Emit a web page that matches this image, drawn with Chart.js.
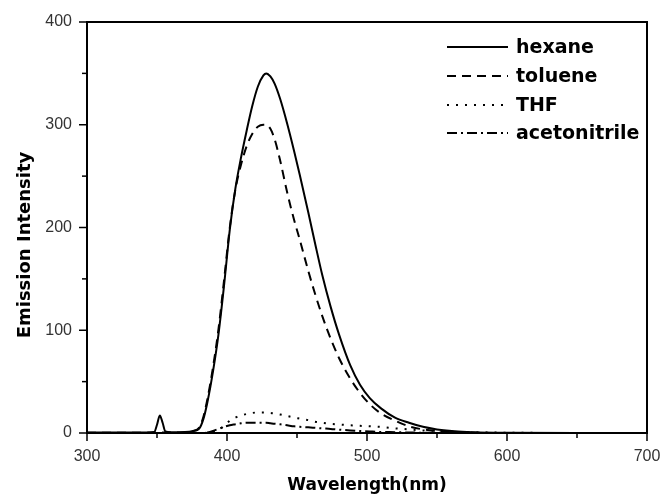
<!DOCTYPE html>
<html>
<head>
<meta charset="utf-8">
<script src="https://cdn.jsdelivr.net/npm/chart.js@4.4.0/dist/chart.umd.min.js"></script>
<style>
  body { margin: 0; background: #fff; }
</style>
</head>
<body>
<canvas id="spectra" width="662" height="496"></canvas>
<script>
// wavelength grid (nm) shared by all spectra
const wavelengths = [300, 340, 348, 350, 352, 354, 356, 360, 370, 376,
    380, 383, 386, 390, 394, 398, 402, 406, 410, 414,
    418, 422, 426, 428, 431, 434, 438, 443, 448, 452,
    458, 463, 468, 474, 480, 488, 495, 502, 510, 520,
    530, 540, 550, 565, 580, 600, 650, 700];

const hexane = [0.5, 0.5, 1, 8, 17, 10, 1.5, 0.8, 1, 2,
    4, 13, 30, 60, 97, 145, 198, 238, 268, 294,
    318, 337, 348, 350, 347, 340, 325, 301, 274, 251,
    215, 184, 154, 123, 96, 66, 47, 34, 24, 15,
    10, 6, 3.5, 1.5, 0.6, 0.2, 0, 0];

const toluene = [0.3, 0.3, 0.5, 0.5, 0.5, 0.5, 0.5, 0.5, 0.8, 2,
    5, 15, 33, 64, 102, 150, 200, 237, 261, 279,
    291, 298, 300, 300, 296, 286, 265, 234, 207, 188,
    158, 135, 114, 92, 73, 53, 39, 28, 19, 12,
    6.5, 3.5, 2, 0.8, 0.3, 0, 0, 0];

const thf = [0, 0, 0, 0, 0, 0, 0, 0, 0, 0,
    0, 0, 0.5, 1.5, 3, 7, 12, 15, 17, 18.5,
    19.5, 20, 20, 20, 19.5, 19, 18, 16.5, 15, 14,
    12.5, 11, 10, 9, 8.3, 7.5, 7, 6.5, 6, 4.5,
    3.5, 2.5, 2, 1, 0.6, 0.3, 0, 0];

const acetonitrile = [0, 0, 0, 0, 0, 0, 0, 0, 0, 0,
    0, 0, 0.5, 2, 4, 6, 7.5, 8.5, 9.5, 10,
    10, 10, 10, 10, 9.5, 9, 8.5, 7.5, 6.5, 6,
    5.5, 5, 4.5, 4, 3.3, 2.5, 2, 1.5, 1, 0.8,
    0.5, 0.3, 0.2, 0, 0, 0, 0, 0];

const seriesNames = ['hexane', 'toluene', 'THF', 'acetonitrile'];
const seriesDashes = [[], [9, 6], [2, 7], [10, 4, 2, 4]];

const xTickLabels = [300, 400, 500, 600, 700];
const yTickLabels = [0, 100, 200, 300, 400];

function toPoints(values) {
    return wavelengths.map((w, i) => ({ x: w, y: values[i] }));
}

// frame, tick marks, y title and legend drawn on top of the chart
const decorations = {
    id: 'decorations',
    afterDraw(chart) {
        const ctx = chart.ctx;
        const area = chart.chartArea;
        const xs = chart.scales.x;
        const ys = chart.scales.y;
        ctx.save();
        ctx.strokeStyle = '#000';
        ctx.lineWidth = 2;

        // top and right sides of the frame
        ctx.beginPath();
        ctx.moveTo(area.left, area.top);
        ctx.lineTo(area.right, area.top);
        ctx.lineTo(area.right, area.bottom);
        ctx.stroke();

        // tick marks: long on labelled values, short in between
        ctx.lineWidth = 1.5;
        xs.ticks.forEach(t => {
            const px = xs.getPixelForValue(t.value);
            const len = xTickLabels.includes(t.value) ? 8 : 5;
            ctx.beginPath();
            ctx.moveTo(px, area.bottom);
            ctx.lineTo(px, area.bottom + len);
            ctx.stroke();
        });
        ys.ticks.forEach(t => {
            const py = ys.getPixelForValue(t.value);
            const len = yTickLabels.includes(t.value) ? 8 : 5;
            ctx.beginPath();
            ctx.moveTo(area.left, py);
            ctx.lineTo(area.left - len, py);
            ctx.stroke();
        });

        // y axis title
        ctx.save();
        ctx.translate(25, 245);
        ctx.rotate(-Math.PI / 2);
        ctx.fillStyle = '#000';
        ctx.font = 'bold 18px "DejaVu Sans"';
        ctx.textAlign = 'center';
        ctx.textBaseline = 'middle';
        ctx.fillText('Emission Intensity', 0, 0);
        ctx.restore();

        // legend
        const rowY = [47, 76, 105, 133];
        chart.data.datasets.forEach((ds, i) => {
            ctx.lineWidth = 2;
            ctx.setLineDash(ds.borderDash || []);
            ctx.beginPath();
            ctx.moveTo(447, rowY[i]);
            ctx.lineTo(508, rowY[i]);
            ctx.stroke();
            ctx.setLineDash([]);
            ctx.fillStyle = '#000';
            ctx.font = 'bold 19px "DejaVu Sans"';
            ctx.textAlign = 'left';
            ctx.textBaseline = 'middle';
            ctx.fillText(ds.label, 516, rowY[i] + 1);
        });
        ctx.restore();
    }
};

const allValues = [hexane, toluene, thf, acetonitrile];

const ctx = document.getElementById('spectra').getContext('2d');
const myChart = new Chart(ctx, {
    type: 'line',
    data: {
        datasets: seriesNames.map((name, i) => ({
            label: name,
            data: toPoints(allValues[i]),
            borderColor: '#000',
            borderWidth: 2,
            borderDash: seriesDashes[i],
            pointRadius: 0,
            fill: false,
            cubicInterpolationMode: 'monotone'
        }))
    },
    options: {
        responsive: false,
        animation: false,
        devicePixelRatio: 1,
        layout: { padding: { top: 22, right: 15, left: 0, bottom: 0 } },
        plugins: {
            legend: { display: false },
            tooltip: { enabled: false }
        },
        scales: {
            x: {
                type: 'linear',
                min: 300,
                max: 700,
                afterFit: s => {
                    s.height = 63;
                    s.paddingLeft = 0;
                    s.paddingRight = 0;
                },
                grid: { display: false, drawTicks: false },
                border: { display: true, color: '#000', width: 2 },
                ticks: {
                    stepSize: 50,
                    autoSkip: false,
                    maxRotation: 0,
                    padding: 14,
                    color: '#333',
                    font: { family: 'Liberation Sans', size: 16 },
                    callback: v => xTickLabels.includes(v) ? String(v) : ''
                },
                title: {
                    display: true,
                    text: 'Wavelength(nm)',
                    color: '#000',
                    padding: 0,
                    font: { family: 'DejaVu Sans', size: 17, weight: 'bold' }
                }
            },
            y: {
                min: 0,
                max: 400,
                afterFit: s => {
                    s.width = 87;
                    s.paddingTop = 0;
                    s.paddingBottom = 0;
                },
                grid: { display: false, drawTicks: false },
                border: { display: true, color: '#000', width: 2 },
                ticks: {
                    stepSize: 50,
                    autoSkip: false,
                    padding: 15,
                    color: '#333',
                    font: { family: 'Liberation Sans', size: 16 },
                    callback: v => yTickLabels.includes(v) ? String(v) : ''
                }
            }
        }
    },
    plugins: [decorations]
});
</script>
</body>
</html>
